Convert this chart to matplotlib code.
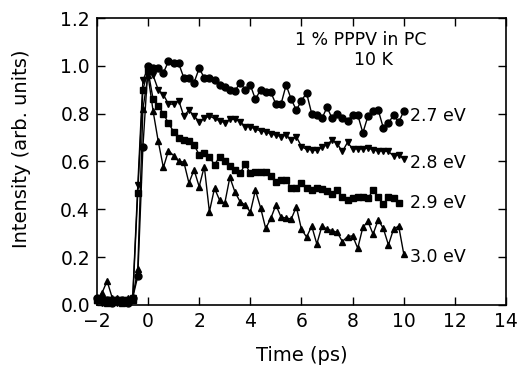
# Time-resolved PL decay of 1 % PPPV in PC at 10 K, four photon energies

import matplotlib
matplotlib.use('Agg')
import matplotlib.pyplot as plt
import numpy as np

time = np.round(np.arange(-2.0, 10.01, 0.2), 1)

# 2.7 eV (circles)
i_27 = [0.03, 0.02, 0.02, 0.01, 0.02, 0.02, 0.01, 0.03, 0.12, 0.66,
        1.00, 0.99, 0.99, 0.97, 1.02, 1.01, 1.01, 0.95, 0.95, 0.93,
        0.99, 0.95, 0.95, 0.94, 0.92, 0.91, 0.90, 0.895, 0.93, 0.90,
        0.92, 0.86, 0.90, 0.89, 0.89, 0.84, 0.84, 0.92, 0.86, 0.815,
        0.855, 0.886, 0.80, 0.795, 0.78, 0.827, 0.78, 0.80, 0.78, 0.77,
        0.795, 0.795, 0.72, 0.79, 0.81, 0.816, 0.74, 0.76, 0.795, 0.765,
        0.81]
# 2.8 eV (down triangles)
i_28 = [0.02, 0.01, 0.02, 0.02, 0.01, 0.02, 0.02, 0.03, 0.50, 0.94,
        0.99, 0.96, 0.90, 0.88, 0.84, 0.84, 0.855, 0.79, 0.815, 0.79,
        0.767, 0.78, 0.79, 0.78, 0.77, 0.763, 0.776, 0.776, 0.767, 0.746,
        0.746, 0.735, 0.728, 0.725, 0.715, 0.711, 0.704, 0.711, 0.69, 0.704,
        0.662, 0.651, 0.649, 0.646, 0.66, 0.67, 0.69, 0.674, 0.642, 0.68,
        0.653, 0.653, 0.653, 0.656, 0.649, 0.644, 0.644, 0.642, 0.623, 0.628,
        0.61]
# 2.9 eV (squares), last point at 9.8 ps
i_29 = [0.02, 0.02, 0.01, 0.02, 0.02, 0.01, 0.02, 0.02, 0.47, 0.90,
        0.98, 0.86, 0.833, 0.80, 0.76, 0.725, 0.70, 0.69, 0.684, 0.67,
        0.628, 0.635, 0.62, 0.586, 0.62, 0.60, 0.58, 0.565, 0.55, 0.59,
        0.55, 0.554, 0.554, 0.554, 0.54, 0.516, 0.523, 0.523, 0.488, 0.488,
        0.51, 0.488, 0.48, 0.488, 0.485, 0.478, 0.464, 0.48, 0.453, 0.44,
        0.446, 0.45, 0.45, 0.446, 0.48, 0.45, 0.423, 0.45, 0.446, 0.428]
# 3.0 eV (up triangles)
i_30 = [0.02, 0.05, 0.10, 0.03, 0.03, 0.02, 0.03, 0.03, 0.15, 0.82,
        0.96, 0.81, 0.684, 0.575, 0.645, 0.625, 0.60, 0.598, 0.51, 0.565,
        0.495, 0.579, 0.39, 0.488, 0.438, 0.425, 0.534, 0.472, 0.432, 0.418,
        0.388, 0.48, 0.407, 0.32, 0.362, 0.418, 0.368, 0.363, 0.36, 0.41,
        0.316, 0.284, 0.33, 0.255, 0.33, 0.317, 0.311, 0.303, 0.265, 0.286,
        0.289, 0.237, 0.325, 0.349, 0.296, 0.356, 0.32, 0.251, 0.317, 0.33,
        0.213]

labels = ['2.7 eV', '2.8 eV', '2.9 eV', '3.0 eV']
label_y = [0.79, 0.594, 0.425, 0.202]
markers = ['o', 'v', 's', '^']
msizes = [5, 4.5, 4.2, 4.5]

plt.rcParams['font.family'] = ['DejaVu Sans']
fig = plt.figure(figsize=(5.18, 3.76), dpi=100)
ax = fig.add_axes([0.187, 0.189, 0.790, 0.763])

for y, m, ms in zip([i_27, i_28, i_29, i_30], markers, msizes):
    ax.plot(time[:len(y)], y, color='black', lw=1, marker=m, ms=ms,
            mfc='black', mec='black', clip_on=False)

for lab, ly in zip(labels, label_y):
    ax.text(10.25, ly, lab, fontsize=12.5, va='center', ha='left')

ax.text(8.3, 1.109, '1 % PPPV in PC', fontsize=12.5, ha='center', va='center')
ax.text(8.8, 1.025, '10 K', fontsize=12.5, ha='center', va='center')

ax.set_xlim(-2, 14)
ax.set_ylim(0, 1.2)
ax.set_xticks(np.arange(-2, 15, 2))
ax.set_yticks(np.arange(0, 1.21, 0.2))
ax.set_xticklabels(['\u22122', '0', '2', '4', '6', '8', '10', '12', '14'])
ax.set_yticklabels(['0.0', '0.2', '0.4', '0.6', '0.8', '1.0', '1.2'])
ax.tick_params(direction='in', top=True, right=True, length=6, width=1,
               labelsize=13.5, pad=5)
for s in ax.spines.values():
    s.set_linewidth(1.2)

ax.set_xlabel('Time (ps)', fontsize=14, labelpad=11)
ax.set_ylabel('Intensity (arb. units)', fontsize=14)
ax.yaxis.set_label_coords(-0.16, 0.545)

fig.savefig('out.png', dpi=100)
